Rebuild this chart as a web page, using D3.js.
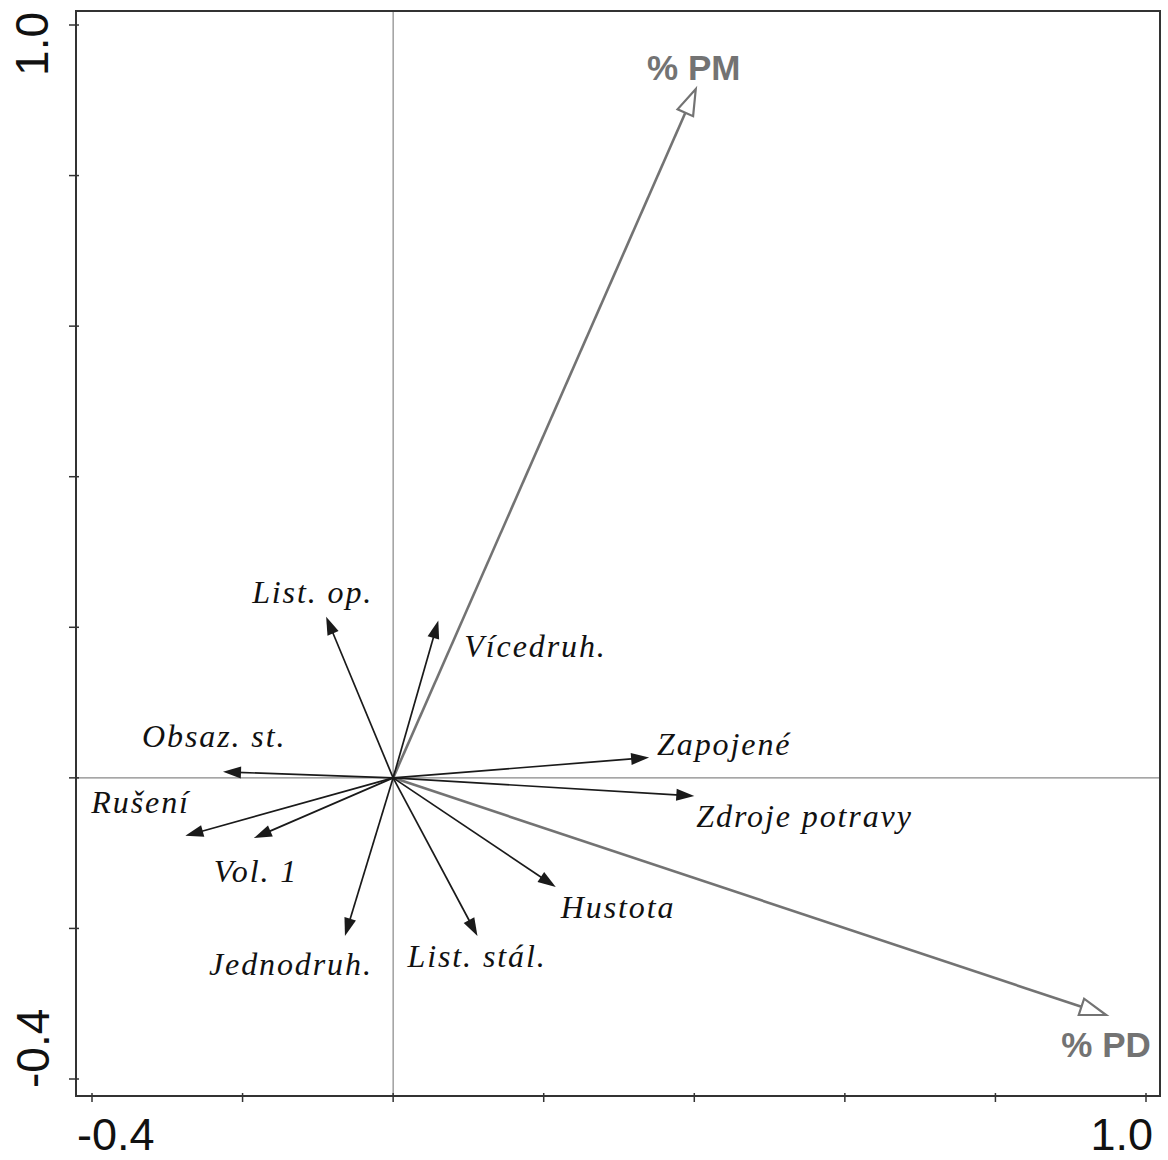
<!DOCTYPE html>
<html><head><meta charset="utf-8">
<script src="https://cdn.jsdelivr.net/npm/d3@7"></script>
<style>html,body{margin:0;padding:0;background:#fff}</style>
</head><body>
<svg id="chart" width="1168" height="1160"></svg>
<script>
// ---- data ----
const envNames   = ["List. op.","Vícedruh.","Obsaz. st.","Rušení","Vol. 1","Jednodruh.","List. stál.","Zapojené","Zdroje potravy","Hustota"];
const envX       = [-0.089, 0.060, -0.226, -0.276, -0.185, -0.064, 0.112, 0.340, 0.400, 0.216];
const envY       = [ 0.214, 0.209,  0.008, -0.077, -0.080, -0.210, -0.210, 0.027, -0.024, -0.145];
const respNames  = ["% PM","% PD"];
const respX      = [0.402, 0.947];
const respY      = [0.915, -0.315];
const xTicks     = [-0.4,-0.2,0,0.2,0.4,0.6,0.8,1.0];
const yTicks     = [-0.4,-0.2,0,0.2,0.4,0.6,0.8,1.0];
const xTickLabels= ["-0.4","1.0"];
const yTickLabels= ["-0.4","1.0"];

// ---- layout (pixel offsets of labels from arrow tips) ----
const envLabelOff  = [[-74,-14],[26,36],[-81,-25],[-94,-23],[-40,44],[-136,39],[-70,31],[8,-3],[2,31],[5,31]];
const respLabelOff = [[-2,-9],[0,42]];

const svg = d3.select("#chart");
const x = d3.scaleLinear().domain([-0.4,1.0]).range([92,1146]);
const y = d3.scaleLinear().domain([-0.4,1.0]).range([1079,25]);
const box = {l:76, t:11, r:1160, b:1096};

// zero lines
svg.append("line").attr("x1",x(0)).attr("x2",x(0)).attr("y1",box.t).attr("y2",box.b)
  .attr("stroke","#888").attr("stroke-width",1.2);
svg.append("line").attr("x1",box.l).attr("x2",box.r).attr("y1",y(0)).attr("y2",y(0))
  .attr("stroke","#888").attr("stroke-width",1.2);

// box
svg.append("rect").attr("x",box.l).attr("y",box.t).attr("width",box.r-box.l).attr("height",box.b-box.t)
  .attr("fill","none").attr("stroke","#333").attr("stroke-width",2);

// ticks
svg.selectAll(".xt").data(xTicks).enter().append("line")
  .attr("x1",d=>x(d)).attr("x2",d=>x(d)).attr("y1",box.b-3).attr("y2",box.b+6)
  .attr("stroke","#333").attr("stroke-width",1.5);
svg.selectAll(".yt").data(yTicks).enter().append("line")
  .attr("y1",d=>y(d)).attr("y2",d=>y(d)).attr("x1",box.l-7).attr("x2",box.l+3)
  .attr("stroke","#333").attr("stroke-width",1.5);

// tick labels
const tf = "'Liberation Sans', Arial, sans-serif";
svg.append("text").text(xTickLabels[0]).attr("x",x(-0.4)-15).attr("y",1150)
  .attr("font-family",tf).attr("font-size",45).attr("text-anchor","start").attr("fill","#111");
svg.append("text").text(xTickLabels[1]).attr("x",x(1.0)+7).attr("y",1150)
  .attr("font-family",tf).attr("font-size",45).attr("text-anchor","end").attr("fill","#111");
svg.append("text").text(yTickLabels[0]).attr("transform",`translate(49,${y(-0.4)+9}) rotate(-90)`)
  .attr("font-family",tf).attr("font-size",46).attr("text-anchor","start").attr("fill","#111");
svg.append("text").text(yTickLabels[1]).attr("transform",`translate(48,${y(1.0)-13}) rotate(-90)`)
  .attr("font-family",tf).attr("font-size",46).attr("text-anchor","end").attr("fill","#111");

// arrowhead helper
function head(x2,y2,ang,len,wid){
  const bx = x2 - len*Math.cos(ang), by = y2 - len*Math.sin(ang);
  const px = -Math.sin(ang)*wid/2, py = Math.cos(ang)*wid/2;
  return `M${x2},${y2}L${bx+px},${by+py}L${bx-px},${by-py}Z`;
}

// response arrows (gray, open heads)
respNames.forEach((n,i)=>{
  const x0=x(0), y0=y(0), x2=x(respX[i]), y2=y(respY[i]);
  const ang = Math.atan2(y2-y0,x2-x0);
  const L=26;
  svg.append("line").attr("x1",x0).attr("y1",y0)
    .attr("x2",x2-L*Math.cos(ang)).attr("y2",y2-L*Math.sin(ang))
    .attr("stroke","#737373").attr("stroke-width",2.6);
  svg.append("path").attr("d",head(x2,y2,ang,L,17))
    .attr("fill","#fff").attr("stroke","#737373").attr("stroke-width",2.2).attr("stroke-linejoin","miter");
  svg.append("text").text(n).attr("x",x2+respLabelOff[i][0]).attr("y",y2+respLabelOff[i][1])
    .attr("text-anchor","middle").attr("font-family",tf).attr("font-weight","bold")
    .attr("font-size",35).attr("fill","#737373");
});

// environmental arrows (black, filled heads)
envNames.forEach((n,i)=>{
  const x0=x(0), y0=y(0), x2=x(envX[i]), y2=y(envY[i]);
  const ang = Math.atan2(y2-y0,x2-x0);
  const L=18;
  svg.append("line").attr("x1",x0).attr("y1",y0)
    .attr("x2",x2-L*0.8*Math.cos(ang)).attr("y2",y2-L*0.8*Math.sin(ang))
    .attr("stroke","#1a1a1a").attr("stroke-width",1.7);
  svg.append("path").attr("d",head(x2,y2,ang,L,12)).attr("fill","#1a1a1a");
  svg.append("text").text(n).attr("x",x2+envLabelOff[i][0]).attr("y",y2+envLabelOff[i][1])
    .attr("font-family","'Liberation Serif','Times New Roman',serif").attr("font-style","italic")
    .attr("font-size",32).attr("letter-spacing","1.9px").attr("fill","#111");
});
</script>
</body></html>
